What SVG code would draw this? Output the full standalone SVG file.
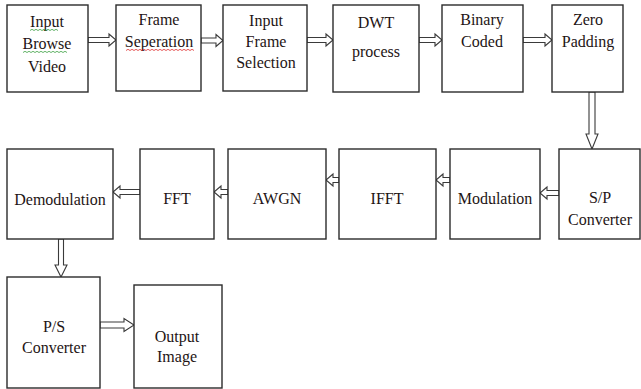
<svg xmlns="http://www.w3.org/2000/svg" width="641" height="389" viewBox="0 0 641 389">
  <style>
    .box { fill: #ffffff; stroke: #2b2b2b; stroke-width: 1.4; }
    .arrow { fill: #ffffff; stroke: #3a3a3a; stroke-width: 1.1; stroke-linejoin: miter; }
    .lbl { font-size: 16px; fill: #1e1414; text-anchor: middle; }
    .red { fill: none; stroke: #e03030; stroke-width: 0.8; }
    .green { fill: none; stroke: #3aa040; stroke-width: 0.8; }
  </style>
  <rect width="641" height="389" fill="#ffffff"/>

  <!-- connectors: hollow block arrows -->
  <g id="connectors">
    <!-- top row, left to right -->
    <path class="arrow" d="M88,37.5 H109 V34 L116,40 L109,46 V42.5 H88 Z"/>
    <path class="arrow" d="M201,38 H216 V34.5 L223,40.5 L216,46.5 V43 H201 Z"/>
    <path class="arrow" d="M307,37.5 H326 V34 L333,40 L326,46 V42.5 H307 Z"/>
    <path class="arrow" d="M419,37.5 H435 V34 L442,40 L435,46 V42.5 H419 Z"/>
    <path class="arrow" d="M523,37.5 H545 V34 L552,40 L545,46 V42.5 H523 Z"/>
    <!-- Zero Padding down to S/P Converter -->
    <path class="arrow" d="M589,92 V134 H586 L592,149 L598,134 H595 V92 Z"/>
    <!-- middle row, right to left -->
    <path class="arrow" d="M559,190.5 H547 V187 L540,193 L547,199 V195.5 H559 Z"/>
    <path class="arrow" d="M450,177.5 H443 V174 L436,180 L443,186 V182.5 H450 Z"/>
    <path class="arrow" d="M339,177.5 H333 V174 L326,180 L333,186 V182.5 H339 Z"/>
    <path class="arrow" d="M228,189.5 H221 V186 L214,192 L221,198 V194.5 H228 Z"/>
    <path class="arrow" d="M140,189.5 H120 V186 L113,192 L120,198 V194.5 H140 Z"/>
    <!-- Demodulation down to P/S Converter -->
    <path class="arrow" d="M58.5,239 V265 H55 L61,277 L67,265 H63.5 V239 Z"/>
    <!-- P/S Converter to Output Image -->
    <path class="arrow" d="M100,322 H124 V318.5 L134,325 L124,331.5 V328 H100 Z"/>
  </g>

  <g font-family="'Liberation Serif', 'Times New Roman', 'DejaVu Serif', serif">
  <g id="input-browse-video">
    <rect class="box" x="7" y="5" width="81" height="87"/>
    <text class="lbl" x="47" y="27">Input</text>
    <text class="lbl" x="47" y="49">Browse</text>
    <text class="lbl" x="47" y="72">Video</text>
    <path class="green" d="M30,30.5 l2,-1.2 l2,1.2 l2,-1.2 l2,1.2 l2,-1.2 l2,1.2 l2,-1.2 l2,1.2 l2,-1.2 l2,1.2 l2,-1.2 l2,1.2 l2,-1.2 l2,1.2"/>
    <path class="green" d="M23,52.5 l2,-1.2 l2,1.2 l2,-1.2 l2,1.2 l2,-1.2 l2,1.2 l2,-1.2 l2,1.2 l2,-1.2 l2,1.2 l2,-1.2 l2,1.2 l2,-1.2 l2,1.2 l2,-1.2 l2,1.2 l2,-1.2 l2,1.2 l2,-1.2 l2,1.2 l2,-1.2 l2,1.2"/>
  </g>

  <g id="frame-seperation">
    <rect class="box" x="116" y="5" width="85" height="86"/>
    <text class="lbl" x="159" y="25">Frame</text>
    <text class="lbl" x="159" y="47">Seperation</text>
    <path class="red" d="M126,50.5 l2,-1.2 l2,1.2 l2,-1.2 l2,1.2 l2,-1.2 l2,1.2 l2,-1.2 l2,1.2 l2,-1.2 l2,1.2 l2,-1.2 l2,1.2 l2,-1.2 l2,1.2 l2,-1.2 l2,1.2 l2,-1.2 l2,1.2 l2,-1.2 l2,1.2 l2,-1.2 l2,1.2 l2,-1.2 l2,1.2 l2,-1.2 l2,1.2 l2,-1.2 l2,1.2 l2,-1.2 l2,1.2 l2,-1.2 l2,1.2 l2,-1.2 l2,1.2"/>
  </g>

  <g id="input-frame-selection">
    <rect class="box" x="223" y="5" width="84" height="86"/>
    <text class="lbl" x="266" y="26">Input</text>
    <text class="lbl" x="266" y="47">Frame</text>
    <text class="lbl" x="266" y="68">Selection</text>
  </g>

  <g id="dwt-process">
    <rect class="box" x="333" y="5" width="86" height="87"/>
    <text class="lbl" x="376" y="28">DWT</text>
    <text class="lbl" x="376" y="57">process</text>
  </g>

  <g id="binary-coded">
    <rect class="box" x="442" y="5" width="81" height="87"/>
    <text class="lbl" x="482" y="25">Binary</text>
    <text class="lbl" x="482" y="47">Coded</text>
  </g>

  <g id="zero-padding">
    <rect class="box" x="552" y="5" width="71" height="87"/>
    <text class="lbl" x="588" y="25">Zero</text>
    <text class="lbl" x="588" y="47">Padding</text>
  </g>

  <g id="sp-converter">
    <rect class="box" x="559" y="149" width="81" height="90"/>
    <text class="lbl" x="600" y="203">S/P</text>
    <text class="lbl" x="600" y="225">Converter</text>
  </g>

  <g id="modulation">
    <rect class="box" x="450" y="149" width="90" height="90"/>
    <text class="lbl" x="495" y="204">Modulation</text>
  </g>

  <g id="ifft">
    <rect class="box" x="339" y="149" width="97" height="90"/>
    <text class="lbl" x="387" y="204">IFFT</text>
  </g>

  <g id="awgn">
    <rect class="box" x="228" y="149" width="98" height="90"/>
    <text class="lbl" x="277" y="204">AWGN</text>
  </g>

  <g id="fft">
    <rect class="box" x="140" y="149" width="74" height="90"/>
    <text class="lbl" x="177" y="204">FFT</text>
  </g>

  <g id="demodulation">
    <rect class="box" x="7" y="149" width="106" height="90"/>
    <text class="lbl" x="60" y="205">Demodulation</text>
  </g>

  <g id="ps-converter">
    <rect class="box" x="7" y="277" width="93" height="111"/>
    <text class="lbl" x="54" y="332">P/S</text>
    <text class="lbl" x="54" y="353">Converter</text>
  </g>

  <g id="output-image">
    <rect class="box" x="134" y="285" width="88" height="103"/>
    <text class="lbl" x="177" y="342">Output</text>
    <text class="lbl" x="177" y="362">Image</text>
  </g>
  </g>
</svg>
